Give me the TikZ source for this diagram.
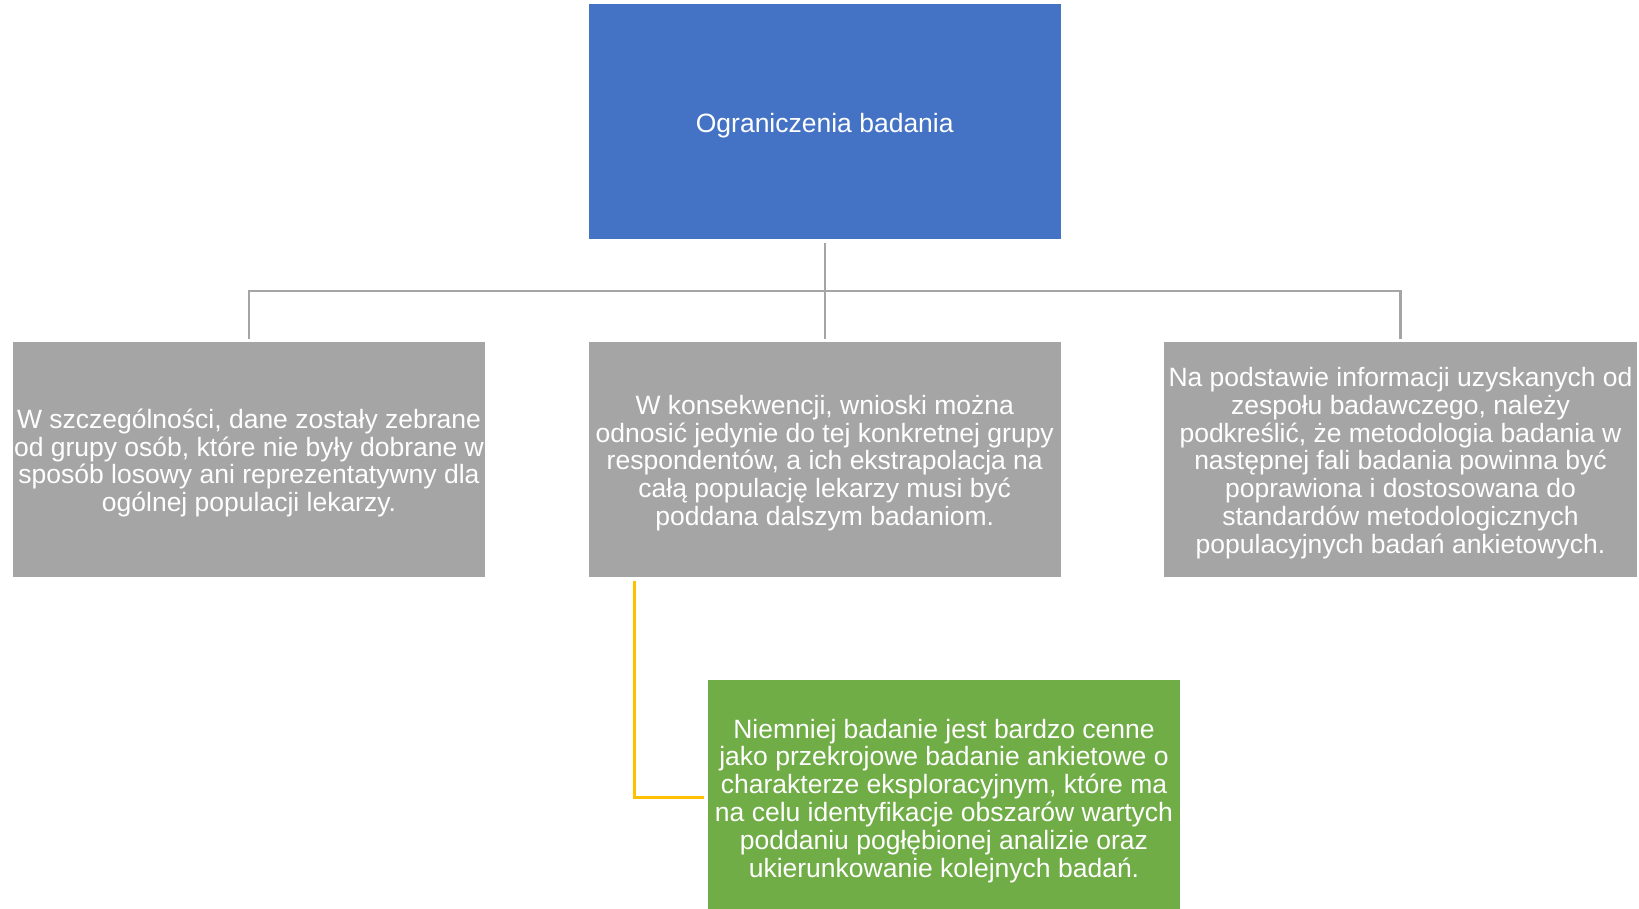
\documentclass[tikz,border=0pt]{standalone}
\usepackage{fontspec}
\setmainfont{Liberation Sans}
\definecolor{topblue}{HTML}{4472C4}
\definecolor{boxgray}{HTML}{A5A5A5}
\definecolor{boxgreen}{HTML}{70AD47}
\definecolor{lineyellow}{HTML}{FFC000}
\begin{document}
\begin{tikzpicture}[x=1pt,y=-1pt,
  box/.style={rectangle, inner sep=0pt, draw=none, minimum width=472.5pt},
  boxtext/.style={inner sep=0pt, text=white, align=center, yshift=-3.2pt,
    font=\fontsize{26.5}{27.8}\selectfont},
  graybox/.style={box, fill=boxgray, minimum height=234.5pt},
  conn/.style={draw=boxgray, line width=2.2pt},
  yconn/.style={draw=lineyellow, line width=2.2pt}]
\useasboundingbox (0,0) rectangle (1639,909);
\fill[white] (0,0) rectangle (1639,909);
\node[box, fill=topblue, minimum height=235pt,
  label={[boxtext]center:Ograniczenia badania}] (top) at (824.75,122) {};
\node[graybox, label={[boxtext]center:W szczególności, dane zostały zebrane\\od grupy osób, które nie były dobrane w\\sposób losowy ani reprezentatywny dla\\ogólnej populacji lekarzy.}] (l) at (249,459.75) {};
\node[graybox, label={[boxtext]center:W konsekwencji, wnioski można\\odnosić jedynie do tej konkretnej grupy\\respondentów, a ich ekstrapolacja na\\całą populację lekarzy musi być\\poddana dalszym badaniom.}] (m) at (824.75,459.75) {};
\node[graybox, label={[boxtext]center:Na podstawie informacji uzyskanych od\\zespołu badawczego, należy\\podkreślić, że metodologia badania w\\następnej fali badania powinna być\\poprawiona i dostosowana do\\standardów metodologicznych\\populacyjnych badań ankietowych.}] (r) at (1400.5,459.75) {};
\node[box, fill=boxgreen, minimum height=235pt,
  label={[boxtext]center:Niemniej badanie jest bardzo cenne\\jako przekrojowe badanie ankietowe o\\charakterze eksploracyjnym, które ma\\na celu identyfikacje obszarów wartych\\poddaniu pogłębionej analizie oraz\\ukierunkowanie kolejnych badań.}] (g) at (944,797.5) {};
\coordinate (bar) at (824.75,291);
\coordinate (ytop) at (634.5,581);
\draw[conn] ([yshift=-3pt]top.south) -- ([yshift=3pt]m.north);
\draw[conn] ([yshift=3pt]l.north) -- (l.north |- bar) -- (r.north |- bar) -- ([yshift=3pt]r.north);
\draw[yconn] (ytop) |- ([xshift=-3.5pt]g.west);
\end{tikzpicture}
\end{document}
